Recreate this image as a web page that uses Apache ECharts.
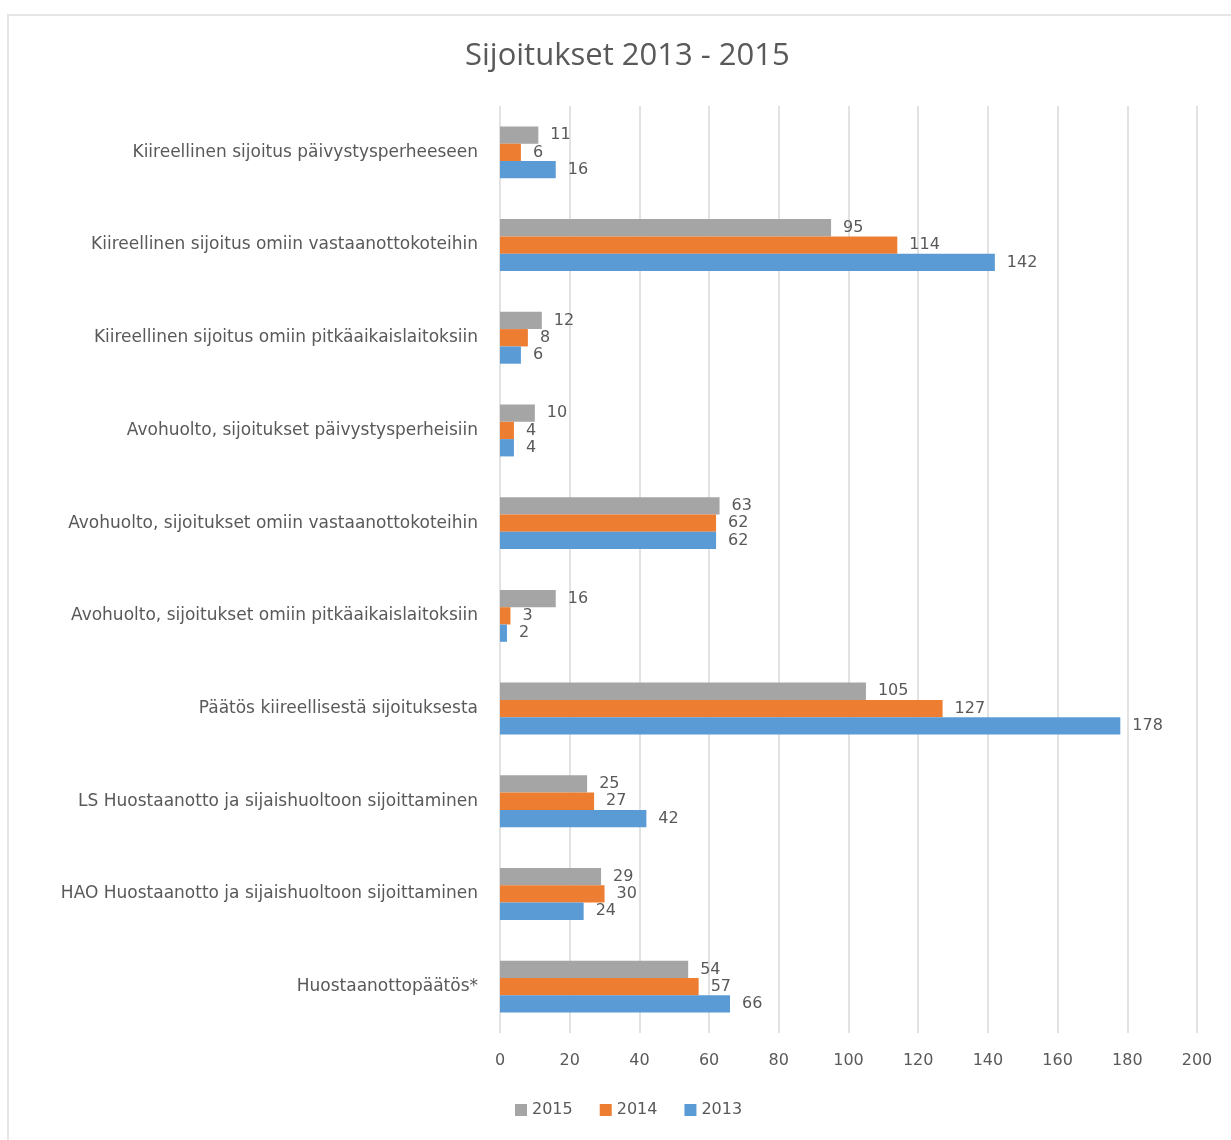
<!DOCTYPE html>
<html><head><meta charset="utf-8">
<script src="https://cdn.jsdelivr.net/npm/echarts@6/dist/echarts.min.js"></script>
<style>html,body{margin:0;padding:0;background:#fff}#c{width:1231px;height:1140px}</style>
</head><body><div id="c"></div>
<script>
const categories = [
  "Kiireellinen sijoitus päivystysperheeseen",
  "Kiireellinen sijoitus omiin vastaanottokoteihin",
  "Kiireellinen sijoitus omiin pitkäaikaislaitoksiin",
  "Avohuolto, sijoitukset päivystysperheisiin",
  "Avohuolto, sijoitukset omiin vastaanottokoteihin",
  "Avohuolto, sijoitukset omiin pitkäaikaislaitoksiin",
  "Päätös kiireellisestä sijoituksesta",
  "LS Huostaanotto ja sijaishuoltoon sijoittaminen",
  "HAO Huostaanotto ja sijaishuoltoon sijoittaminen",
  "Huostaanottopäätös*"
];
const v2015 = [11, 95, 12, 10, 63, 16, 105, 25, 29, 54];
const v2014 = [6, 114, 8, 4, 62, 3, 127, 27, 30, 57];
const v2013 = [16, 142, 6, 4, 62, 2, 178, 42, 24, 66];
const seriesNames = ["2015", "2014", "2013"];
const colors = ["#A5A5A5", "#ED7D31", "#5B9BD5"];
const FONT = "DejaVu Sans";

const chart = echarts.init(document.getElementById('c'));
const mk = (name, data, color) => ({
  name, type: 'bar', data, barGap: '0%', barCategoryGap: '44%',
  itemStyle: { color },
  label: { show: true, position: 'right', distance: 12, color: '#595959', fontSize: 16, fontFamily: FONT },
  animation: false
});
chart.setOption({
  animation: false,
  color: colors,
  title: { text: 'Sijoitukset 2013 - 2015', left: 460, top: 36,
    textStyle: { color: '#595959', fontSize: 31, fontWeight: 'normal', fontFamily: 'Open Sans' } },
  graphic: [{ type: 'rect', shape: { x: 8, y: 15, width: 1240, height: 1140 }, style: { fill: 'none', stroke: '#e6e6e6', lineWidth: 2 }, z: -1 }],
  legend: { data: seriesNames, bottom: 17, left: 510, itemWidth: 12, itemHeight: 12, itemGap: 27,
    icon: 'rect', textStyle: { color: '#595959', fontSize: 16, fontFamily: FONT } },
  grid: { left: 500, right: 34, top: 106, bottom: 107 },
  xAxis: { type: 'value', min: 0, max: 200, interval: 20,
    axisLine: { show: false }, axisTick: { show: false },
    splitLine: { lineStyle: { color: '#d9d9d9', width: 1.5 } },
    axisLabel: { color: '#595959', fontSize: 16, fontFamily: FONT, margin: 20 } },
  yAxis: { type: 'category', data: categories, inverse: true,
    axisLine: { show: false }, axisTick: { show: false },
    axisLabel: { color: '#595959', fontSize: 17, fontFamily: FONT, margin: 22 } },
  series: [mk(seriesNames[0], v2015, colors[0]), mk(seriesNames[1], v2014, colors[1]), mk(seriesNames[2], v2013, colors[2])]
});
</script></body></html>
